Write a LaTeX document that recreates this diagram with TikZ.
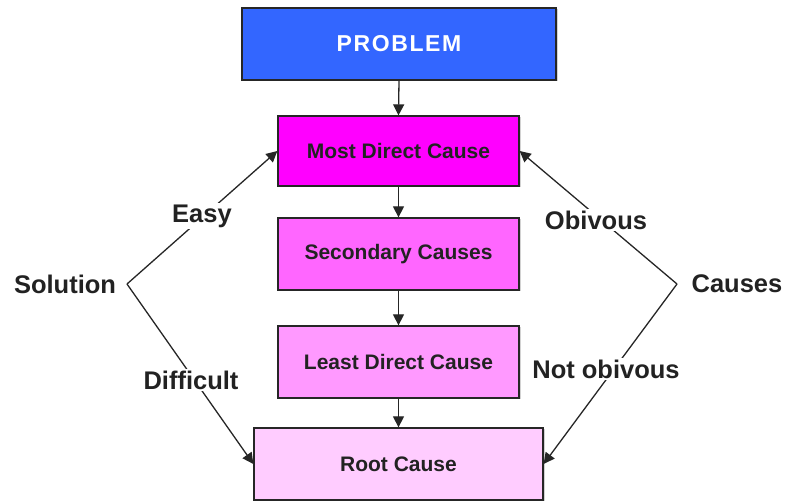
\documentclass[tikz,border=0pt]{standalone}
\usepackage{fontspec}
\setmainfont{Liberation Sans}
\usetikzlibrary{arrows.meta,shadows}
\definecolor{probblue}{HTML}{3366FF}
\definecolor{mag1}{HTML}{FF00FF}
\definecolor{mag2}{HTML}{FF66FF}
\definecolor{mag3}{HTML}{FF99FF}
\definecolor{mag4}{HTML}{FFCCFF}
\definecolor{txtdark}{HTML}{222222}
\tikzset{
  box/.style={draw=black!85, line width=1.3pt, inner sep=0pt, minimum height=72pt,
    text=txtdark, font=\fontsize{21}{25}\selectfont\bfseries,
    drop shadow={shadow xshift=1.5pt, shadow yshift=-1.5pt, fill=black!35}},
  side/.style={fill=white, inner sep=2pt, text=txtdark, font=\fontsize{25.5}{30}\selectfont\bfseries},
  conn/.style={draw=black!85, line width=1.3pt},
  arr/.style={conn, -{Triangle[length=11pt,width=11pt]}}
}
\begin{document}
\begin{tikzpicture}[x=1pt,y=-1pt]
\useasboundingbox (0,0) rectangle (785,502);
\node[box, fill=probblue, minimum width=314pt, text=white,
  font=\fontsize{23}{27}\selectfont\bfseries\addfontfeature{LetterSpace=7}] (prob) at (399,44) {PROBLEM};
\node[box, fill=mag1, minimum width=241pt, minimum height=70pt] (md) at (398.5,151) {Most Direct Cause};
\node[box, fill=mag2, minimum width=241pt] (sc) at (398.5,254) {Secondary Causes};
\node[box, fill=mag3, minimum width=241pt] (ld) at (398.5,362) {Least Direct Cause};
\node[box, fill=mag4, minimum width=289pt] (rc) at (398.5,464) {Root Cause};

\draw[arr] (prob.south) -- (md.north);
\draw[arr] (md.south) -- (sc.north);
\draw[arr] (sc.south) -- (ld.north);
\draw[arr] (ld.south) -- (rc.north);

\coordinate (sv) at (127,284);
\coordinate (cv) at (677,284);
\draw[arr] (sv) -- (md.west);
\draw[arr] (sv) -- (rc.west);
\draw[arr] (cv) -- (md.east);
\draw[arr] (cv) -- (rc.east);

\node[side] (sol) at (65,284) {Solution};
\node[side] (cau) at (737,284) {Causes};
\node[side] (easy) at (202,216) {Easy};
\node[side] (diff) at (191,380) {Difficult};
\node[side] (obv) at (596,220) {Obivous};
\node[side] (nobv) at (606,369) {Not obivous};
\end{tikzpicture}
\end{document}
